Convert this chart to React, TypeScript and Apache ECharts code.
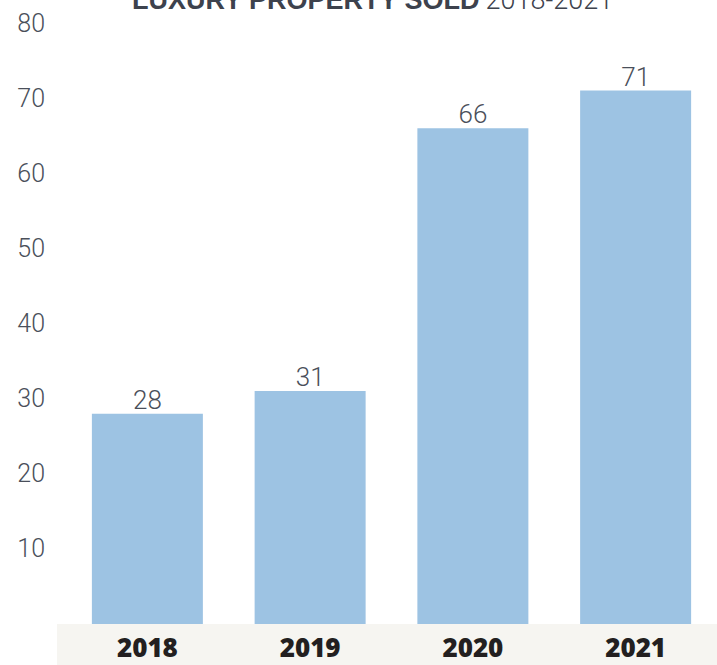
import React, { useEffect, useRef } from "react";
import * as echarts from "echarts";

const categories = ["2018", "2019", "2020", "2021"];
const soldValues = [28, 31, 66, 71];
const yTicks = { min: 0, max: 80, interval: 10 };
const titleBold = "LUXURY PROPERTY SOLD";
const titleLight = "2018-2021";

export default function App() {
  const ref = useRef<HTMLDivElement>(null);
  useEffect(() => {
    if (!ref.current) return;
    const chart = echarts.init(ref.current, null, { renderer: "svg" });
    chart.setOption({
      animation: false,
      backgroundColor: "#ffffff",
      title: {
        text: `{b|${titleBold}} {l|${titleLight}}`,
        left: 132,
        top: -14,
        padding: 0,
        textStyle: {
          rich: {
            b: { fontFamily: "Liberation Sans", fontWeight: "bold", fontSize: 27, color: "#3d424d" },
            l: { fontFamily: "Roboto", fontWeight: 300, fontSize: 27, color: "#3d424d" },
          },
        },
      },
      graphic: [
        {
          type: "rect",
          z: -10,
          shape: { x: 57, y: 624, width: 660, height: 41 },
          style: { fill: "#f6f5f1" },
        },
      ],
      grid: { left: 66, width: 677, top: 23, bottom: 41, containLabel: false },
      xAxis: {
        type: "category",
        data: categories,
        axisLine: { show: false },
        axisTick: { show: false },
        axisLabel: {
          fontFamily: "Open Sans",
          fontWeight: 800,
          fontSize: 26,
          color: "#231f20",
          margin: 10,
        },
      },
      yAxis: {
        type: "value",
        min: yTicks.min,
        max: yTicks.max,
        interval: yTicks.interval,
        splitLine: { show: false },
        axisLine: { show: false },
        axisTick: { show: false },
        axisLabel: {
          showMinLabel: false,
          fontFamily: "Roboto",
          fontWeight: 300,
          fontSize: 25,
          color: "#4a4f5a",
          margin: 21,
        },
      },
      series: [
        {
          type: "bar",
          data: soldValues,
          barWidth: 111,
          itemStyle: { color: "#9dc3e3" },
          label: {
            show: true,
            position: "top",
            distance: 1,
            fontFamily: "Roboto",
            fontWeight: 300,
            fontSize: 26,
            color: "#4a4f5a",
          },
        },
      ],
    });
    return () => chart.dispose();
  }, []);
  return (
    <div
      ref={ref}
      style={{ position: "fixed", left: 0, top: 0, width: 717, height: 665 }}
    />
  );
}
